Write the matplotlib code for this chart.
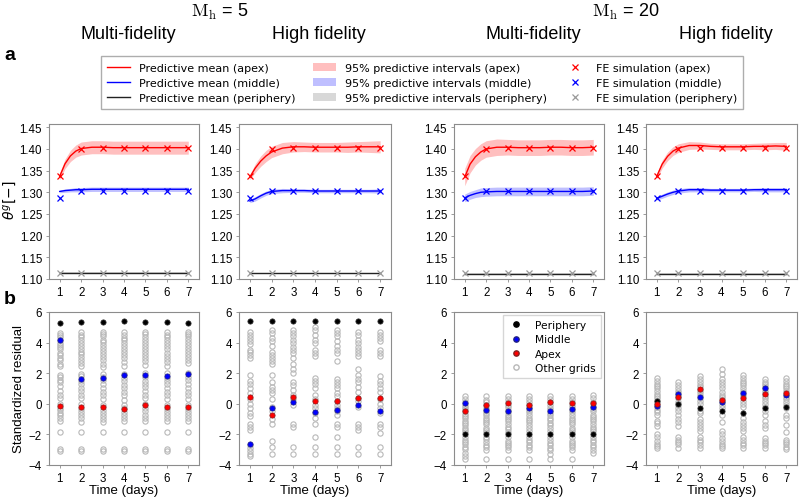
import numpy as np
import matplotlib.pyplot as plt
from matplotlib.lines import Line2D
from matplotlib.patches import Patch

plt.rcParams['font.family'] = ['Liberation Sans', 'DejaVu Sans']

days = [1, 2, 3, 4, 5, 6, 7]
t_fine = [1, 1.25, 1.5, 1.75, 2, 2.5, 3, 3.5, 4, 4.5, 5, 5.5, 6, 6.5, 7]

panel_titles = ['Multi-fidelity', 'High fidelity', 'Multi-fidelity', 'High fidelity']
group_titles = ['5', '20']

# FE simulation values (same ground truth in every panel)
fe_apex = [1.337, 1.401, 1.403, 1.403, 1.403, 1.403, 1.403]
fe_middle = [1.286, 1.304, 1.304, 1.304, 1.304, 1.304, 1.304]
fe_periphery = [1.113, 1.113, 1.113, 1.113, 1.113, 1.113, 1.113]

# predictive means / half width of 95% band, order: MF5, HF5, MF20, HF20
apex_mean = [
    [1.337, 1.366, 1.384, 1.395, 1.401, 1.404, 1.404, 1.403, 1.403, 1.403, 1.403, 1.403, 1.403, 1.403, 1.403],
    [1.335, 1.356, 1.372, 1.384, 1.393, 1.402, 1.405, 1.405, 1.404, 1.404, 1.404, 1.404, 1.405, 1.405, 1.405],
    [1.335, 1.365, 1.382, 1.393, 1.400, 1.404, 1.404, 1.403, 1.403, 1.403, 1.404, 1.404, 1.403, 1.403, 1.404],
    [1.337, 1.365, 1.383, 1.395, 1.402, 1.408, 1.408, 1.406, 1.405, 1.405, 1.405, 1.406, 1.406, 1.407, 1.406],
]
apex_hw = [
    [0.008, 0.011, 0.013, 0.014, 0.015, 0.015, 0.015, 0.015, 0.015, 0.015, 0.015, 0.015, 0.015, 0.015, 0.015],
    [0.006, 0.010, 0.012, 0.013, 0.013, 0.013, 0.012, 0.011, 0.011, 0.011, 0.011, 0.012, 0.012, 0.013, 0.014],
    [0.020, 0.020, 0.019, 0.019, 0.019, 0.019, 0.018, 0.018, 0.018, 0.018, 0.018, 0.018, 0.018, 0.018, 0.018],
    [0.006, 0.009, 0.010, 0.010, 0.010, 0.009, 0.008, 0.007, 0.007, 0.007, 0.007, 0.007, 0.008, 0.008, 0.009],
]
middle_mean = [
    [1.302, 1.304, 1.305, 1.306, 1.306, 1.307, 1.307, 1.307, 1.307, 1.307, 1.307, 1.307, 1.307, 1.307, 1.307],
    [1.280, 1.285, 1.292, 1.298, 1.302, 1.304, 1.304, 1.304, 1.303, 1.303, 1.303, 1.303, 1.303, 1.303, 1.303],
    [1.287, 1.293, 1.297, 1.300, 1.301, 1.302, 1.302, 1.302, 1.302, 1.302, 1.302, 1.302, 1.302, 1.302, 1.303],
    [1.286, 1.291, 1.296, 1.300, 1.303, 1.306, 1.306, 1.305, 1.305, 1.305, 1.305, 1.306, 1.306, 1.306, 1.306],
]
middle_hw = [
    [0.003, 0.004, 0.004, 0.005, 0.005, 0.005, 0.005, 0.005, 0.005, 0.005, 0.005, 0.005, 0.005, 0.005, 0.005],
    [0.004, 0.005, 0.005, 0.005, 0.005, 0.005, 0.004, 0.004, 0.004, 0.004, 0.004, 0.004, 0.004, 0.004, 0.005],
    [0.009, 0.009, 0.009, 0.010, 0.010, 0.010, 0.010, 0.010, 0.010, 0.010, 0.010, 0.010, 0.010, 0.010, 0.010],
    [0.004, 0.005, 0.005, 0.005, 0.005, 0.005, 0.005, 0.004, 0.004, 0.004, 0.004, 0.004, 0.005, 0.005, 0.005],
]
periphery_mean = [1.114, 1.113, 1.112, 1.112]
periphery_hw = [0.001, 0.001, 0.001, 0.001]

# standardized residuals per day: MF5, HF5, MF20, HF20
res_periphery = [
    [5.25, 5.35, 5.35, 5.4, 5.35, 5.35, 5.3],
    [5.4, 5.4, 5.4, 5.4, 5.4, 5.4, 5.4],
    [-2.0, -2.0, -2.0, -2.0, -2.0, -2.0, -2.0],
    [0.2, 0.0, -0.3, -0.5, -0.6, -0.25, -0.2],
]
res_middle = [
    [4.15, 1.6, 1.7, 1.85, 1.85, 1.8, 1.95],
    [-2.6, -0.25, 0.15, -0.55, -0.4, -0.1, -0.45],
    [0.05, -0.4, -0.45, -0.3, -0.45, -0.35, -0.2],
    [-0.15, 0.65, 0.45, 0.15, 0.7, 1.0, 0.6],
]
res_apex = [
    [-0.15, -0.2, -0.2, -0.35, -0.05, -0.2, -0.2],
    [0.45, -0.75, 0.45, 0.2, 0.2, 0.4, 0.35],
    [-0.5, -0.1, 0.05, -0.1, 0.1, 0.05, 0.05],
    [0.0, 0.45, 0.95, 0.25, 0.35, 0.65, 0.7],
]

other_mf5 = [
    [4.65, 4.5, 4.35, 4.2, 4.0, 3.85, 3.7, 3.55, 3.35, 3.2, 3.0, 2.85, 2.6, 2.45, 1.9, 1.75, 1.55, 1.4, 1.15, 0.85, 0.6, 0.4, 0.0, -0.25, -0.4, -0.6, -0.75, -0.95, -1.15, -1.85, -2.95, -3.1],
    [4.7, 4.5, 4.35, 4.2, 4.0, 3.8, 3.6, 3.4, 3.25, 3.05, 2.85, 2.65, 2.45, 1.95, 1.8, 1.5, 1.3, 1.05, 0.85, 0.6, 0.35, 0.0, -0.35, -0.55, -0.75, -0.95, -1.2, -1.85, -2.95, -3.1],
    [4.7, 4.55, 4.4, 4.2, 4.05, 3.85, 3.65, 3.45, 3.25, 3.05, 2.85, 2.6, 2.4, 1.95, 1.75, 1.55, 1.3, 1.05, 0.8, 0.55, 0.3, -0.1, -0.4, -0.6, -0.8, -1.0, -1.2, -1.85, -2.95, -3.1],
    [4.7, 4.5, 4.3, 4.15, 3.95, 3.75, 3.6, 3.4, 3.2, 3.0, 2.75, 2.5, 1.95, 1.7, 1.5, 1.25, 1.05, 0.8, 0.55, 0.25, -0.05, -0.25, -0.55, -0.75, -0.95, -1.15, -1.85, -2.95, -3.1],
    [4.7, 4.55, 4.35, 4.15, 4.0, 3.8, 3.6, 3.4, 3.2, 3.0, 2.8, 2.55, 2.0, 1.75, 1.5, 1.3, 1.1, 0.85, 0.6, 0.35, 0.0, -0.3, -0.5, -0.7, -0.9, -1.1, -1.85, -2.95, -3.1],
    [4.7, 4.5, 4.35, 4.15, 3.95, 3.75, 3.55, 3.35, 3.15, 2.95, 2.75, 2.5, 2.0, 1.7, 1.5, 1.3, 1.05, 0.8, 0.55, 0.3, -0.05, -0.35, -0.55, -0.75, -0.95, -1.15, -1.85, -2.95, -3.1],
    [4.7, 4.55, 4.4, 4.25, 4.05, 3.85, 3.65, 3.45, 3.25, 3.05, 2.85, 2.65, 2.0, 1.75, 1.55, 1.3, 1.05, 0.8, 0.55, 0.3, -0.05, -0.35, -0.55, -0.75, -0.95, -1.15, -1.85, -2.95, -3.1],
]
other_hf5 = [
    [4.7, 4.5, 4.3, 4.1, 3.9, 3.5, 3.4, 3.2, 3.0, 1.9, 1.5, 1.3, 1.0, 0.7, 0.3, 0.0, -0.3, -0.6, -0.8, -1.3, -1.5, -1.7, -2.7, -2.9, -3.1, -3.3, -3.4],
    [4.8, 4.6, 4.3, 4.1, 3.8, 3.4, 3.2, 3.0, 2.8, 2.6, 1.9, 1.4, 1.1, 0.9, 0.7, 0.3, -0.2, -0.5, -1.0, -1.3, -2.4, -2.8, -3.3],
    [4.8, 4.6, 4.4, 4.2, 4.0, 3.7, 3.5, 3.3, 3.0, 2.6, 2.3, 2.0, 1.4, 1.2, 0.9, 0.6, 0.3, -0.1, -1.3, -1.5, -2.8, -3.3],
    [5.0, 4.8, 4.5, 4.2, 4.0, 3.5, 3.3, 3.1, 1.7, 1.5, 1.3, 1.0, 0.6, 0.3, -0.1, -0.3, -0.6, -0.9, -1.3, -2.2, -2.8, -3.3],
    [4.8, 4.6, 4.4, 4.1, 3.8, 3.5, 3.3, 2.8, 1.6, 1.4, 1.2, 1.0, 0.7, 0.5, 0.2, -0.1, -0.3, -0.5, -0.7, -1.3, -1.5, -2.2, -2.8, -3.3],
    [4.7, 4.5, 4.2, 4.0, 3.7, 3.5, 3.3, 3.1, 2.3, 1.9, 1.6, 1.4, 1.1, 0.8, 0.4, 0.2, -0.2, -1.3, -1.5, -1.7, -2.8, -3.3],
    [4.7, 4.5, 4.3, 4.1, 3.5, 3.3, 3.1, 1.8, 1.5, 1.3, 1.0, 0.8, 0.3, 0.0, -0.3, -0.6, -1.3, -1.5, -1.9, -2.8, -3.3],
]
other_mf20 = [
    [0.5, 0.3, 0.15, -0.05, -0.2, -0.35, -0.5, -0.65, -0.8, -0.95, -1.1, -1.25, -1.4, -1.55, -1.7, -1.85, -2.2, -2.35, -2.5, -2.65, -2.8, -2.95, -3.2, -3.4, -3.6],
    [0.5, 0.25, 0.1, -0.1, -0.25, -0.45, -0.6, -0.75, -0.9, -1.05, -1.2, -1.35, -1.55, -1.7, -1.85, -2.15, -2.3, -2.5, -2.7, -2.85, -3.0, -3.6],
    [0.5, 0.3, 0.15, -0.05, -0.2, -0.4, -0.55, -0.7, -0.85, -1.0, -1.15, -1.3, -1.5, -1.65, -1.85, -2.2, -2.4, -2.55, -2.7, -2.85, -3.0, -3.6],
    [0.5, 0.3, 0.1, -0.05, -0.25, -0.4, -0.55, -0.75, -0.9, -1.05, -1.2, -1.4, -1.55, -1.75, -2.2, -2.35, -2.5, -2.7, -2.85, -3.0, -3.6],
    [0.5, 0.3, 0.15, -0.1, -0.25, -0.4, -0.6, -0.75, -0.9, -1.05, -1.25, -1.4, -1.6, -1.75, -2.2, -2.35, -2.55, -2.7, -2.9, -3.05, -3.25, -3.6],
    [0.5, 0.3, 0.1, -0.05, -0.2, -0.4, -0.55, -0.7, -0.9, -1.05, -1.2, -1.35, -1.55, -1.7, -1.85, -2.2, -2.4, -2.55, -2.7, -2.85, -3.0, -3.6],
    [0.55, 0.35, 0.15, 0.0, -0.2, -0.35, -0.5, -0.7, -0.85, -1.0, -1.15, -1.3, -1.5, -1.65, -1.8, -2.2, -2.35, -2.5, -2.7, -2.85, -3.0, -3.2],
]
other_hf20 = [
    [1.7, 1.5, 1.3, 1.15, 1.0, 0.85, 0.65, 0.5, 0.35, 0.2, 0.0, -0.2, -0.4, -0.55, -0.75, -1.1, -1.25, -1.45, -2.0, -2.2, -2.4, -2.6, -2.75, -2.9],
    [1.4, 1.2, 1.0, 0.85, 0.7, 0.5, 0.35, 0.15, -0.05, -0.3, -0.5, -0.7, -1.0, -1.2, -1.45, -2.2, -2.35, -2.5, -2.65, -2.9],
    [1.8, 1.6, 1.4, 1.25, 1.1, 0.9, 0.75, 0.6, 0.4, 0.2, 0.0, -0.45, -0.6, -1.0, -1.2, -1.4, -1.6, -1.8, -2.2, -2.35, -2.5, -2.7, -2.9],
    [2.25, 1.95, 1.6, 1.4, 1.25, 1.0, 0.8, 0.6, 0.45, 0.3, 0.1, -0.1, -0.3, -0.7, -1.2, -1.8, -1.95, -2.25, -2.45, -2.6, -2.75, -2.9],
    [1.9, 1.7, 1.5, 1.35, 1.2, 1.0, 0.85, 0.65, 0.5, 0.2, 0.0, -0.2, -0.9, -1.2, -1.4, -1.55, -1.75, -2.2, -2.35, -2.55, -2.7, -2.9],
    [1.65, 1.45, 1.3, 1.15, 1.0, 0.85, 0.7, 0.5, 0.35, 0.2, 0.0, -0.2, -0.45, -0.75, -1.1, -1.4, -1.55, -2.25, -2.4, -2.55, -2.7, -2.9],
    [1.7, 1.5, 1.3, 1.15, 1.0, 0.85, 0.65, 0.45, 0.3, 0.15, -0.1, -0.3, -0.7, -0.95, -1.4, -1.85, -2.35, -2.5, -2.65, -2.8, -2.95],
]
other_grids = [other_mf5, other_hf5, other_mf20, other_hf20]

RED = '#ff0000'
BLUE = '#0000ff'
SPINE = '#8c8c8c'
W, H = 800, 502
x_px = [(49, 199), (239, 391), (454, 604), (646, 797)]
MS = 3.8


def add_ax(fig, l, t, r, b):
    return fig.add_axes([l / W, 1 - b / H, (r - l) / W, (b - t) / H])


def style_ax(ax):
    for s in ax.spines.values():
        s.set_color(SPINE)
        s.set_linewidth(0.8)
    ax.tick_params(length=2, width=0.6, color=SPINE, labelsize=8.3, pad=3)
    ax.set_xlim(0.5, 7.5)
    ax.set_xticks(days)


fig = plt.figure(figsize=(W / 100, H / 100), dpi=100)

for i, (l, r) in enumerate(x_px):
    # top row: predictive mean and intervals
    ax = add_ax(fig, l, 125, r, 280)
    style_ax(ax)
    m = np.array(apex_mean[i]); h = np.array(apex_hw[i])
    ax.fill_between(t_fine, m - h, m + h, color=RED, alpha=0.25, lw=0)
    ax.plot(t_fine, m, color=RED, lw=1)
    m = np.array(middle_mean[i]); h = np.array(middle_hw[i])
    ax.fill_between(t_fine, m - h, m + h, color=BLUE, alpha=0.25, lw=0)
    ax.plot(t_fine, m, color=BLUE, lw=1)
    pm = periphery_mean[i]; ph = periphery_hw[i]
    ax.fill_between([1, 7], [pm - ph] * 2, [pm + ph] * 2, color='gray', alpha=0.3, lw=0)
    ax.plot([1, 7], [pm, pm], color='#222222', lw=1)
    ax.plot(days, fe_apex, 'x', color=RED, ms=4, mew=0.9)
    ax.plot(days, fe_middle, 'x', color=BLUE, ms=4, mew=0.9)
    ax.plot(days, fe_periphery, 'x', color='#999999', ms=4, mew=0.9)
    ax.set_ylim(1.10, 1.4576)
    ax.set_yticks([1.10, 1.15, 1.20, 1.25, 1.30, 1.35, 1.40, 1.45])
    ax.set_yticklabels(['%.2f' % v for v in ax.get_yticks()])

    # bottom row: standardized residuals
    ax = add_ax(fig, l, 313, r, 466)
    style_ax(ax)
    for d, vals in zip(days, other_grids[i]):
        ax.plot([d] * len(vals), vals, 'o', mfc='none', mec='#b8b8b8', ms=MS, mew=0.8)
    ax.plot(days, res_periphery[i], 'o', color='black', ms=MS, mec='#333333', mew=0.5)
    ax.plot(days, res_middle[i], 'o', color=BLUE, ms=MS, mec='#202080', mew=0.5)
    ax.plot(days, res_apex[i], 'o', color=RED, ms=MS, mec='#802020', mew=0.5)
    ax.set_ylim(-4, 6)
    ax.set_yticks([-4, -2, 0, 2, 4, 6])
    ax.set_yticklabels(['\u22124', '\u22122', '0', '2', '4', '6'])
    ax.set_xlabel('Time (days)', fontsize=9.5, labelpad=0)
    if i == 0:
        ax.set_ylabel('Standardized residual', fontsize=9.5, labelpad=3)
    if i == 2:
        hs = [Line2D([], [], ls='', marker='o', color='black', ms=MS),
              Line2D([], [], ls='', marker='o', color=BLUE, ms=MS, mec='#202080'),
              Line2D([], [], ls='', marker='o', color=RED, ms=MS, mec='#802020'),
              Line2D([], [], ls='', marker='o', mfc='none', mec='#b8b8b8', ms=MS)]
        ax.legend(hs, ['Periphery', 'Middle', 'Apex', 'Other grids'], loc='upper right',
                  prop={'family': 'DejaVu Sans', 'size': 7.7}, fancybox=False,
                  edgecolor='#cccccc', handletextpad=1.0, borderpad=0.45, labelspacing=0.4,
                  borderaxespad=0.3, handlelength=1.6)

    # column title
    fig.text(((l + r) / 2 + 4) / W, 1 - 35 / H, panel_titles[i], ha='center', va='center', fontsize=13)

fig.text(10 / W, 1 - 200 / H, r'$\theta^{g}[-]$', rotation=90, ha='center', va='center', fontsize=10)

for j, g in enumerate(group_titles):
    cx = (x_px[2 * j][0] + x_px[2 * j + 1][1]) / 2
    fig.text(cx / W, 1 - 12 / H, r'$\mathrm{M_h}$ = ' + g, ha='center', va='center',
             fontsize=13, math_fontfamily='cm')

fig.text(10 / W, 1 - 56 / H, 'a', fontsize=14, fontweight='bold', ha='center', va='center')
fig.text(10 / W, 1 - 300 / H, 'b', fontsize=14, fontweight='bold', ha='center', va='center')

handles = [
    Line2D([], [], color=RED, lw=1),
    Line2D([], [], color=BLUE, lw=1),
    Line2D([], [], color='#222222', lw=1),
    Patch(color=RED, alpha=0.25, lw=0),
    Patch(color=BLUE, alpha=0.25, lw=0),
    Patch(color='gray', alpha=0.3, lw=0),
    Line2D([], [], ls='', marker='x', color=RED, ms=4, mew=0.9),
    Line2D([], [], ls='', marker='x', color=BLUE, ms=4, mew=0.9),
    Line2D([], [], ls='', marker='x', color='#999999', ms=4, mew=0.9),
]
labels = ['Predictive mean (apex)', 'Predictive mean (middle)', 'Predictive mean (periphery)',
          '95% predictive intervals (apex)', '95% predictive intervals (middle)',
          '95% predictive intervals (periphery)',
          'FE simulation (apex)', 'FE simulation (middle)', 'FE simulation (periphery)']
fig.legend(handles, labels, loc='center', bbox_to_anchor=(422 / W, 1 - 83.5 / H), ncol=3,
           prop={'family': 'DejaVu Sans', 'size': 8}, fancybox=False, edgecolor='#999999',
           columnspacing=1.5, handlelength=2.1, handletextpad=0.8, labelspacing=0.45,
           borderpad=0.55)

fig.savefig('out.png', dpi=100)
